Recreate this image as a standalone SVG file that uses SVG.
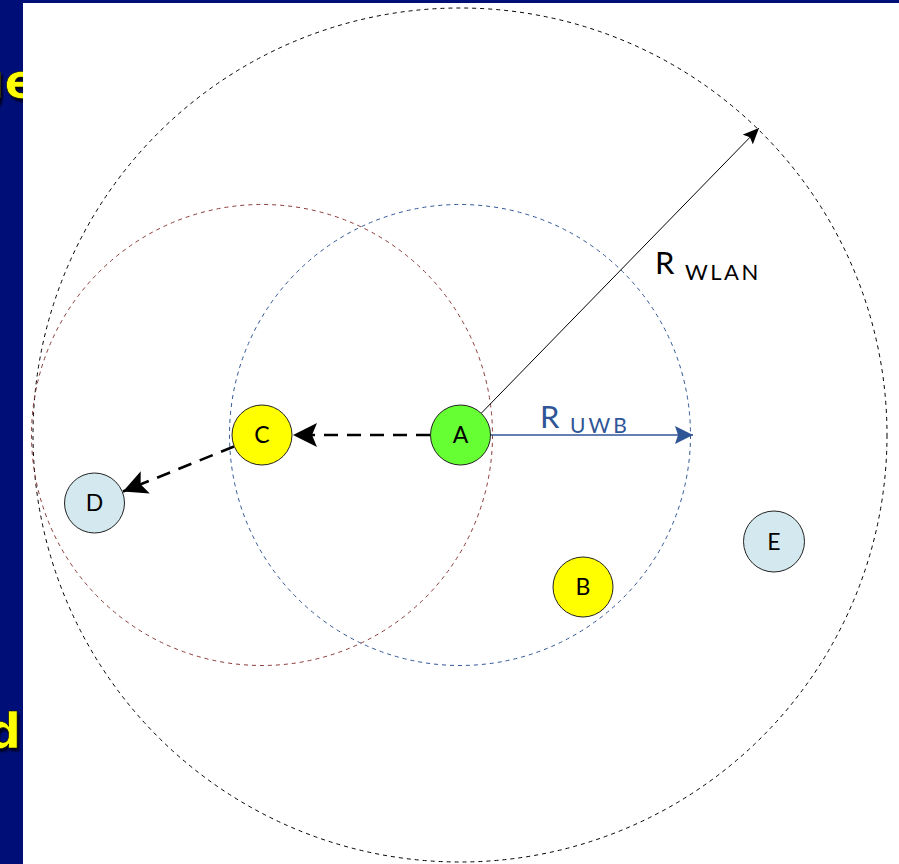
<svg xmlns="http://www.w3.org/2000/svg" width="899" height="864" viewBox="0 0 899 864">
  <defs>
    <marker id="headBig" viewBox="0 0 24 24" refX="24" refY="12" markerWidth="24" markerHeight="24" markerUnits="userSpaceOnUse" orient="auto">
      <path d="M0,0 L24,12 L0,24 L5,12 Z" fill="#000"/>
    </marker>
    <marker id="headThin" viewBox="0 0 16 14" refX="16" refY="7" markerWidth="16" markerHeight="14" markerUnits="userSpaceOnUse" orient="auto">
      <path d="M0,0 L16,7 L0,14 L3,7 Z" fill="#000"/>
    </marker>
    <marker id="headBlue" viewBox="0 0 18 18" refX="18" refY="9" markerWidth="18" markerHeight="18" markerUnits="userSpaceOnUse" orient="auto">
      <path d="M0,0 L18,9 L0,18 L3,9 Z" fill="#2F5597"/>
    </marker>
    <filter id="textShadow" x="-20%" y="-20%" width="140%" height="140%">
      <feDropShadow dx="2" dy="3" stdDeviation="1" flood-color="#000520" flood-opacity="1"/>
    </filter>
  </defs>
  <style>
    .slide { fill: #000F78; }
    .slideText { font-family: "DejaVu Sans", sans-serif; font-weight: bold; font-size: 48px; fill: #FFFF00; stroke: #000; stroke-width: 0.6; filter: url(#textShadow); }
    .range { fill: none; stroke-width: 1; stroke-dasharray: 4 4; }
    .node circle { stroke: #222; stroke-width: 1; }
    .node text { font-family: Lato, "Liberation Sans", sans-serif; font-size: 23px; fill: #000; text-anchor: middle; }
    .lbl { font-family: Lato, "Liberation Sans", sans-serif; }
  </style>

  <!-- slide background and fragments of slide text behind the panel -->
  <rect class="slide" x="0" y="0" width="899" height="864"/>
  <text class="slideText" x="37" y="98" text-anchor="end">ge</text>
  <text class="slideText" x="21" y="748" text-anchor="end">d</text>

  <!-- white drawing panel -->
  <rect x="23" y="3" width="876" height="861" fill="#FFFFFF"/>

  <!-- coverage ranges -->
  <g id="ranges">
    <circle class="range" cx="460" cy="435" r="427" stroke="#000"/>
    <circle class="range" cx="460" cy="435" r="230.5" stroke="#2F5597"/>
    <circle class="range" cx="262" cy="435" r="230.5" stroke="#8B3A3A"/>
  </g>

  <!-- connectors -->
  <g id="connectors">
    <line x1="430" y1="435" x2="293" y2="435" stroke="#000" stroke-width="2.6" stroke-dasharray="14 9" marker-end="url(#headBig)"/>
    <line x1="234" y1="446.5" x2="123" y2="491.5" stroke="#000" stroke-width="2.6" stroke-dasharray="14 9" marker-end="url(#headBig)"/>
    <line x1="481" y1="413.5" x2="759" y2="128" stroke="#000" stroke-width="1" marker-end="url(#headThin)"/>
    <line x1="490.5" y1="435" x2="693" y2="435" stroke="#2F5597" stroke-width="1.5" marker-end="url(#headBlue)"/>
  </g>

  <!-- radius labels -->
  <g id="label-wlan">
    <text class="lbl" x="655" y="274" font-size="31" fill="#000">R</text>
    <text class="lbl" x="685" y="280" font-size="22" letter-spacing="2.5" fill="#000">WLAN</text>
  </g>
  <g id="label-uwb">
    <text class="lbl" x="540" y="428" font-size="31" fill="#2F5597">R</text>
    <text class="lbl" x="570" y="433" font-size="21" letter-spacing="3" fill="#2F5597">UWB</text>
  </g>

  <!-- stations -->
  <g id="node-A" class="node">
    <circle cx="460.5" cy="435" r="30" fill="#66FF33"/>
    <text x="460.5" y="443">A</text>
  </g>
  <g id="node-C" class="node">
    <circle cx="262" cy="435" r="30" fill="#FFFF00"/>
    <text x="262" y="443">C</text>
  </g>
  <g id="node-D" class="node">
    <circle cx="94.5" cy="503" r="30" fill="#D3E9EF"/>
    <text x="94.5" y="511">D</text>
  </g>
  <g id="node-B" class="node">
    <circle cx="583" cy="587" r="30" fill="#FFFF00"/>
    <text x="583" y="595">B</text>
  </g>
  <g id="node-E" class="node">
    <circle cx="774" cy="541.5" r="30.5" fill="#D3E9EF"/>
    <text x="774" y="549.5">E</text>
  </g>
</svg>
